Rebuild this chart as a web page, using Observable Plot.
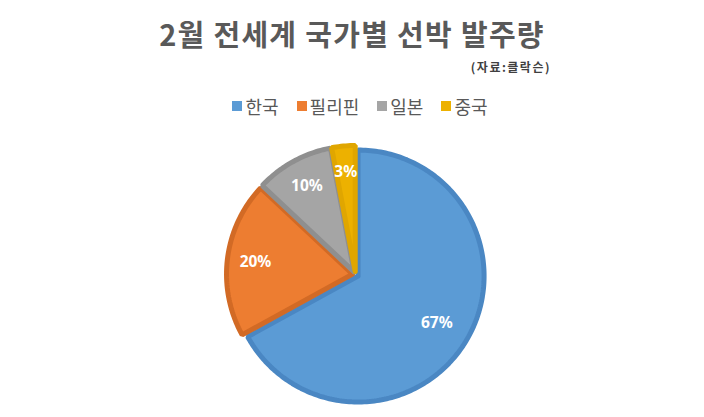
<!DOCTYPE html>
<html>
<head>
<meta charset="utf-8">
<script src="https://cdn.jsdelivr.net/npm/d3@7"></script>
<script src="https://cdn.jsdelivr.net/npm/@observablehq/plot@0.6"></script>
<style>
  html, body { margin: 0; padding: 0; background: #fff; }
  body { width: 704px; height: 417px; overflow: hidden; font-family: "Noto Sans CJK KR", "Noto Sans", sans-serif; }
  #title { position: absolute; left: 0; width: 704px; top: 12px; text-align: center; font-size: 29px; font-weight: bold; color: #595959; letter-spacing: 1.3px; line-height: 42px; }
  #sub { position: absolute; right: 153px; top: 59px; font-size: 12px; font-weight: bold; color: #404040; letter-spacing: 1.5px; line-height: 16px; }
  #legend { position: absolute; left: 8px; width: 704px; top: 92px; display: flex; justify-content: center; gap: 18px; font-size: 18px; color: #595959; line-height: 28px; }
  #legend span.item { display: flex; align-items: center; }
  #legend span.sw { display: inline-block; width: 10px; height: 10px; margin-right: 3px; }
  #chart { position: absolute; left: 0; top: 125px; }
</style>
</head>
<body>
<div id="title"></div>
<div id="sub"></div>
<div id="legend"></div>
<div id="chart"></div>
<script>
const titleText = "2월 전세계 국가별 선박 발주량";
const sourceText = "(자료:클락슨)";
const countries = ["한국", "필리핀", "일본", "중국"];
const shares = [67, 20, 10, 3];
const fills = ["#5B9BD5", "#ED7D31", "#A5A5A5", "#EDB100"];
const strokes = ["#4A87C3", "#D26A25", "#8F8F8F", "#E0A600"];

document.getElementById("title").textContent = titleText;
document.getElementById("sub").textContent = sourceText;
const leg = document.getElementById("legend");
countries.forEach((c, i) => {
  const it = document.createElement("span");
  it.className = "item";
  const sw = document.createElement("span");
  sw.className = "sw";
  sw.style.background = fills[i];
  it.appendChild(sw);
  it.appendChild(document.createTextNode(c));
  leg.appendChild(it);
});

const R = 126;
const explode = 3;
const arcs = d3.pie().sort(null).value(d => d)(shares);

const pts = [];
const labels = [];
arcs.forEach((a, i) => {
  const mid = (a.startAngle + a.endAngle) / 2;
  const ox = explode * Math.sin(mid), oy = -explode * Math.cos(mid);
  pts.push({k: countries[i], x: ox, y: oy});
  const n = Math.max(4, Math.ceil((a.endAngle - a.startAngle) / 0.02));
  for (let j = 0; j <= n; j++) {
    const t = a.startAngle + (a.endAngle - a.startAngle) * j / n;
    pts.push({k: countries[i], x: ox + R * Math.sin(t), y: oy - R * Math.cos(t)});
  }
  pts.push({k: countries[i], x: ox, y: oy});
  const lr = i === 0 ? R * 0.75 : (i === 3 ? R * 0.82 : R * 0.8);
  labels.push({k: countries[i], x: lr * Math.sin(mid), y: -lr * Math.cos(mid), text: shares[i] + "%"});
});

const chart = Plot.plot({
  width: 704,
  height: 292,
  margin: 0,
  x: {domain: [-355, 349], range: [0, 704], axis: null},
  y: {domain: [-149, 143], range: [0, 292], axis: null},
  color: {domain: countries, range: fills},
  marks: [
    Plot.line(pts, {x: "x", y: "y", z: "k", fill: "k", stroke: d => strokes[countries.indexOf(d.k)], strokeWidth: 5, strokeLinejoin: "miter", curve: "linear"}),
    Plot.text(labels, {x: "x", y: "y", text: "text", fill: "white", fontSize: 15.5, fontWeight: "bold", fontFamily: "Noto Sans, sans-serif"})
  ]
});
document.getElementById("chart").appendChild(chart);
</script>
</body>
</html>
